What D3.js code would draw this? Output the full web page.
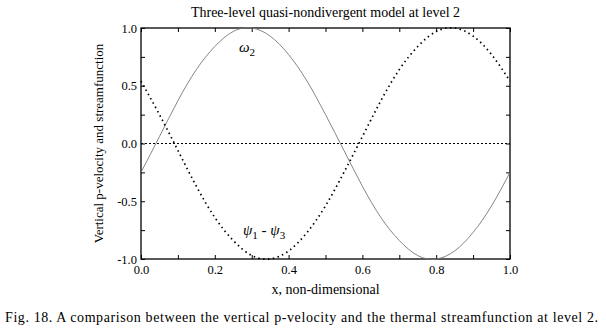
<!DOCTYPE html>
<meta charset="utf-8">
<style>
    body { margin: 0; background: #fff; }
</style>
<body>
<script src="https://d3js.org/d3.v7.min.js"></script>
<script>
    let xs = [0, 0.05, 0.10, 0.15, 0.20, 0.25, 0.30, 0.35, 0.40, 0.45, 0.50,
              0.55, 0.60, 0.65, 0.70, 0.75, 0.80, 0.85, 0.90, 0.95, 1.00];
    // omega_2 (solid grey)
    let omega2 = [-0.25, 0.06, 0.37, 0.64, 0.84, 0.97, 1.00, 0.93, 0.77, 0.54, 0.25,
                  -0.06, -0.37, -0.64, -0.84, -0.97, -1.00, -0.93, -0.77, -0.54, -0.25];
    // psi_1 - psi_3 (dotted)
    let psiDiff = [0.54, 0.25, -0.06, -0.37, -0.64, -0.84, -0.97, -1.00, -0.93, -0.77, -0.54,
                   -0.25, 0.06, 0.37, 0.64, 0.84, 0.97, 1.00, 0.93, 0.77, 0.54];
    let xTicks = [0, 0.2, 0.4, 0.6, 0.8, 1.0];
    let yTicks = [-1.0, -0.5, 0.0, 0.5, 1.0];

    let width = 606, height = 332;
    let margin = {left: 141, right: 96, top: 28, bottom: 73};
    let serif = "'Liberation Serif', 'DejaVu Serif', serif";

    let svg = d3.select("body").append("svg")
        .attr("width", width)
        .attr("height", height);

    let x = d3.scaleLinear().domain([0, 1]).range([margin.left, width - margin.right]);
    let y = d3.scaleLinear().domain([-1, 1]).range([height - margin.bottom, margin.top]);

    // plain hyphen for negatives, like the original
    let fmt = d => d3.format(".1f")(d).replace("\u2212", "-");

    // minor + major ticks, inward on all four sides
    let xMinor = d3.range(0, 1.0001, 0.1);
    let yMinor = d3.range(-1, 1.0001, 0.25);

    svg.append("g")
        .attr("transform", "translate(0," + y(-1) + ")")
        .call(d3.axisBottom(x).tickValues(xMinor).tickSize(-4)
            .tickFormat(d => xTicks.some(t => Math.abs(t - d) < 1e-6) ? fmt(d) : ""))
        .call(g => g.select(".domain").remove())
        .call(g => g.selectAll(".tick text").attr("dy", "0.95em").attr("y", 3));

    svg.append("g")
        .attr("transform", "translate(0," + y(1) + ")")
        .call(d3.axisTop(x).tickValues(xMinor).tickSize(-4).tickFormat(""))
        .call(g => g.select(".domain").remove());

    svg.append("g")
        .attr("transform", "translate(" + x(0) + ",0)")
        .call(d3.axisLeft(y).tickValues(yMinor).tickSize(-4)
            .tickFormat(d => yTicks.some(t => Math.abs(t - d) < 1e-6) ? fmt(d) : ""))
        .call(g => g.select(".domain").remove())
        .call(g => g.selectAll(".tick text").attr("x", -4));

    svg.append("g")
        .attr("transform", "translate(" + x(1) + ",0)")
        .call(d3.axisRight(y).tickValues(yMinor).tickSize(-4).tickFormat(""))
        .call(g => g.select(".domain").remove());

    svg.selectAll(".tick line").attr("stroke", "#000").attr("stroke-width", 1);
    svg.selectAll(".tick text").style("font-size", "12.5px");

    // frame
    svg.append("rect")
        .attr("x", x(0)).attr("y", y(1))
        .attr("width", x(1) - x(0)).attr("height", y(-1) - y(1))
        .attr("fill", "none").attr("stroke", "#000").attr("stroke-width", 1.3);

    // zero line
    svg.append("line")
        .attr("x1", x(0)).attr("x2", x(1))
        .attr("y1", y(0)).attr("y2", y(0))
        .attr("stroke", "#000").attr("stroke-width", 1)
        .attr("stroke-dasharray", "2,2");

    let line = d3.line().curve(d3.curveNatural)
        .x((d, i) => x(xs[i]))
        .y(d => y(d));

    svg.append("path")
        .datum(omega2)
        .attr("d", line)
        .attr("fill", "none")
        .attr("stroke", "#777")
        .attr("stroke-width", 0.9);

    svg.append("path")
        .datum(psiDiff)
        .attr("d", line)
        .attr("fill", "none")
        .attr("stroke", "#000")
        .attr("stroke-width", 1.7)
        .attr("stroke-dasharray", "1.5,3.4");

    // curve labels
    let l1 = svg.append("text")
        .attr("x", 239).attr("y", 52)
        .style("font-size", "15px").style("font-style", "italic")
        .text("ω");
    l1.append("tspan").attr("dy", 4).style("font-size", "11px").style("font-style", "normal").text("2");

    let l2 = svg.append("text")
        .attr("x", 243).attr("y", 235)
        .style("font-size", "15px").style("font-style", "italic")
        .text("ψ");
    l2.append("tspan").attr("dy", 4).style("font-size", "11px").style("font-style", "normal").text("1");
    l2.append("tspan").attr("dy", -4).style("font-style", "normal").text(" - ");
    l2.append("tspan").style("font-style", "italic").text("ψ");
    l2.append("tspan").attr("dy", 4).style("font-size", "11px").style("font-style", "normal").text("3");

    // titles
    svg.append("text")
        .attr("x", (x(0) + x(1)) / 2).attr("y", 17)
        .attr("text-anchor", "middle")
        .style("font-size", "14px")
        .text("Three-level quasi-nondivergent model at level 2");

    svg.append("text")
        .attr("x", (x(0) + x(1)) / 2).attr("y", 294)
        .attr("text-anchor", "middle")
        .style("font-size", "14px")
        .text("x, non-dimensional");

    svg.append("text")
        .attr("transform", "translate(103," + y(0) + ") rotate(-90)")
        .attr("text-anchor", "middle")
        .style("font-size", "13px")
        .text("Vertical p-velocity and streamfunction");

    svg.append("text")
        .attr("x", 5).attr("y", 322)
        .attr("textLength", 593)
        .style("font-size", "14px")
        .text("Fig. 18. A comparison between the vertical p-velocity and the thermal streamfunction at level 2.");

    svg.selectAll("text").style("font-family", serif).attr("fill", "#000");
</script>
</body>
